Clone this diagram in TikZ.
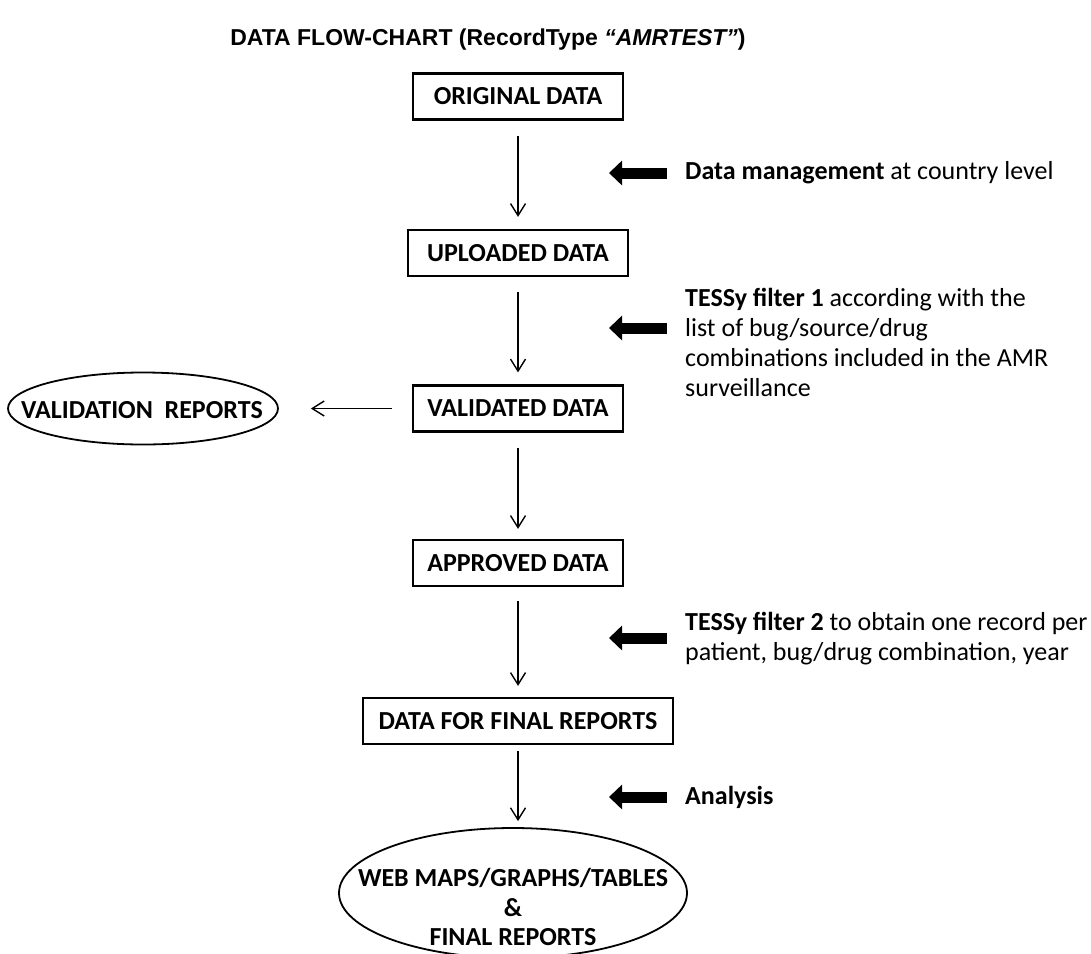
\documentclass[tikz,border=0pt]{standalone}
\usepackage{fontspec}
\setmainfont{Carlito}
\newfontfamily\headfont{Liberation Sans}
\usetikzlibrary{arrows.meta,shapes.geometric}

\begin{document}
\begin{tikzpicture}[x=1pt,y=-1pt]

\tikzset{DataBox/.style={draw,line width=2.2pt,minimum width=210pt,minimum height=46pt,inner sep=0pt,font=\fontsize{26}{31}\selectfont\bfseries},
  Report/.style={draw,ellipse,line width=1.8pt,inner sep=0pt},
  ReportText/.style={align=center,inner sep=0pt,font=\fontsize{26}{29.5}\selectfont\bfseries},
  Note/.style={anchor=west,align=left,inner sep=0pt,font=\fontsize{26}{30}\selectfont},
  FlowEdge/.style={line width=1.4pt,-{Straight Barb[length=12pt,width=15pt]}},
  StepArrow/.style={line width=11pt,-{Triangle[length=13pt,width=24pt]}}}

  \useasboundingbox (0,0) rectangle (1091,953);

  \node[font=\headfont\fontsize{23}{27}\selectfont\bfseries] (title) at (488,40) {DATA FLOW-CHART (RecordType \textit{“AMRTEST”})};

  \node[DataBox] (od) at (518,96.5) {ORIGINAL DATA};
  \node[DataBox,minimum width=220pt] (ud) at (518,253) {UPLOADED DATA};
  \node[DataBox] (vd) at (518,408.5) {VALIDATED DATA};
  \node[DataBox] (ad) at (518,563) {APPROVED DATA};
  \node[DataBox,minimum width=310pt] (fd) at (518,721) {DATA FOR FINAL REPORTS};

  \node[Report,minimum width=270pt,minimum height=72pt] (vr) at (143,408.5) {};
  \node[ReportText] (vrtext) at (142,410) {VALIDATION\ \ REPORTS};
  \node[Report,minimum width=348pt,minimum height=130pt] (web) at (513,893) {};
  \node[ReportText] (webtext) at (513,907) {WEB MAPS/GRAPHS/TABLES\\\&\\FINAL REPORTS};

  \draw[FlowEdge,shorten <=15pt,shorten >=12pt] (od) -- (ud);
  \draw[FlowEdge,shorten <=15pt,shorten >=12pt] (ud) -- (vd);
  \draw[FlowEdge,shorten <=15pt,shorten >=10pt] (vd) -- (ad);
  \draw[FlowEdge,shorten <=14pt,shorten >=11pt] (ad) -- (fd);
  \draw[FlowEdge,shorten <=6pt,shorten >=6pt] (fd.south) -- (fd.south |- web.north);
  \draw[FlowEdge,shorten <=20pt,shorten >=32pt] (vd.west) -- (vr.east);

  \node[Note] (n1) at (685,173) {\textbf{Data management} at country level};
  \node[Note] (n2) at (685,342) {\textbf{TESSy filter 1} according with the\\list of bug/source/drug\\combinations included in the AMR\\surveillance};
  \node[Note] (n3) at (685,639) {\textbf{TESSy filter 2} to obtain one record per\\patient, bug/drug combination, year};
  \node[Note] (n4) at (685,797) {\textbf{Analysis}};

  \coordinate (t1) at (667,173); \coordinate (h1) at (609,173);
  \coordinate (t2) at (667,328); \coordinate (h2) at (609,328);
  \coordinate (t3) at (667,638); \coordinate (h3) at (609,638);
  \coordinate (t4) at (667,797); \coordinate (h4) at (609,797);

  \draw[StepArrow] (t1) -- (h1);
  \draw[StepArrow] (t2) -- (h2);
  \draw[StepArrow] (t3) -- (h3);
  \draw[StepArrow] (t4) -- (h4);

\end{tikzpicture}
\end{document}
